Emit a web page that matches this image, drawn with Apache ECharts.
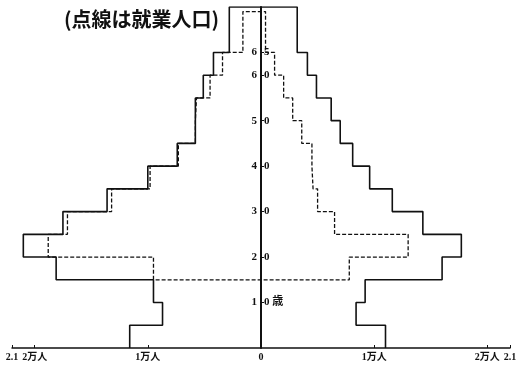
<!DOCTYPE html>
<html lang="ja">
<head>
    <meta charset="UTF-8">
    <title>人口ピラミッド</title>
    <script src="https://cdn.jsdelivr.net/npm/echarts@6.0.0/dist/echarts.min.js"></script>
    <style>
        html, body {margin: 0; padding: 0; background: #fff;}
        #chart {width: 520px; height: 368px;}
    </style>
</head>
<body>
<div id="chart"></div>
<script>
    // 年齢階級の境界（歳）
    var ageEdges = [0, 5, 10, 15, 20, 25, 30, 35, 40, 45, 50, 55, 60, 65, 75];
    // 就業人口の最上段（点線）
    var workTopAge = 74;

    // 男（左）総人口、万人
    var maleTotal = [1.16, 0.87, 0.95, 1.81, 2.10, 1.75, 1.36, 1.00, 0.74, 0.58, 0.58, 0.51, 0.42, 0.28];
    // 女（右）総人口、万人
    var femaleTotal = [1.10, 0.84, 0.92, 1.60, 1.77, 1.43, 1.16, 0.96, 0.81, 0.70, 0.62, 0.49, 0.41, 0.32];
    // 就業人口（15歳未満はなし）
    var maleWork = [null, null, null, 0.95, 1.88, 1.71, 1.32, 0.98, 0.73, 0.58, 0.57, 0.45, 0.34, 0.16];
    var femaleWork = [null, null, null, 0.78, 1.30, 0.65, 0.50, 0.46, 0.45, 0.36, 0.28, 0.20, 0.12, 0.04];

    // 軸の目盛
    var xTicks = [-2.2, -2, -1, 0, 1, 2, 2.2];
    var xTickText = {'-2.2': '2.1', '-2': '2万人', '-1': '1万人', '0': '0', '1': '1万人', '2': '2万人', '2.2': '2.1'};
    var ageTicks = [10, 20, 30, 40, 50, 60, 65];

    // 階段状の輪郭を作る（左は負の値）
    function outline(left, right, topAge) {
        var pts = [];
        var n = left.length;
        for (var i = 0; i < n; i++) {
            if (left[i] == null) continue;
            var top = (i == n - 1) ? topAge : ageEdges[i + 1];
            pts.push([-left[i], ageEdges[i]]);
            pts.push([-left[i], top]);
        }
        for (var j = n - 1; j >= 0; j--) {
            if (right[j] == null) continue;
            var top2 = (j == n - 1) ? topAge : ageEdges[j + 1];
            pts.push([right[j], top2]);
            pts.push([right[j], ageEdges[j]]);
        }
        return pts;
    }

    var totalLine = outline(maleTotal, femaleTotal, ageEdges[ageEdges.length - 1]);
    var workLine = outline(maleWork, femaleWork, workTopAge);
    workLine.push(workLine[0]); // 15歳の横線で閉じる

    var labelFont = "'Liberation Serif', 'Noto Sans CJK JP'";
    var half = 249; // 中心軸までの距離(px)

    var chart = echarts.init(document.getElementById('chart'));
    var option = {
        animation: false,
        backgroundColor: '#fff',
        grid: {left: 12, right: 10, top: 7, bottom: 20, containLabel: false, outerBoundsMode: 'none'},
        graphic: [{
            type: 'text',
            left: 64,
            top: 9,
            style: {
                text: '(点線は就業人口)',
                font: "bold 20px 'Noto Sans CJK JP'",
                fill: '#111'
            }
        }],
        xAxis: {
            type: 'value',
            min: -2.2,
            max: 2.2,
            splitLine: {show: false},
            axisLine: {lineStyle: {color: '#111', width: 1.5}},
            axisTick: {show: true, inside: true, length: 3, customValues: xTicks, lineStyle: {color: '#111'}},
            axisLabel: {
                customValues: xTicks,
                margin: 4,
                color: '#111',
                fontSize: 10,
                fontWeight: 'bold',
                fontFamily: labelFont,
                formatter: function (v) {
                    return xTickText[String(Math.round(v * 10) / 10)];
                }
            }
        },
        yAxis: [{
            type: 'value',
            min: 0,
            max: 75,
            position: 'left',
            offset: -half,
            splitLine: {show: false},
            axisLine: {show: true, onZero: false, lineStyle: {color: '#111', width: 2}},
            axisTick: {show: false},
            axisLabel: {
                customValues: ageTicks,
                margin: 4,
                color: '#111',
                fontSize: 11,
                fontWeight: 'bold',
                fontFamily: labelFont,
                formatter: function (v) {
                    return String(Math.floor(v / 10));
                }
            }
        }, {
            type: 'value',
            min: 0,
            max: 75,
            position: 'right',
            offset: -half,
            splitLine: {show: false},
            axisLine: {show: false, onZero: false},
            axisTick: {show: true, length: 3, customValues: ageTicks, lineStyle: {color: '#111'}},
            axisLabel: {
                customValues: ageTicks,
                margin: 3,
                color: '#111',
                fontSize: 11,
                fontWeight: 'bold',
                fontFamily: labelFont,
                formatter: function (v) {
                    return String(v % 10) + (v == 10 ? ' 歳' : '');
                }
            }
        }],
        series: [{
            name: '総人口',
            type: 'line',
            data: totalLine,
            symbol: 'none',
            lineStyle: {color: '#111', width: 1.6}
        }, {
            name: '就業人口',
            type: 'line',
            data: workLine,
            symbol: 'none',
            lineStyle: {color: '#111', width: 1.3, type: [4, 2]}
        }]
    };
    chart.setOption(option);
</script>
</body>
</html>
